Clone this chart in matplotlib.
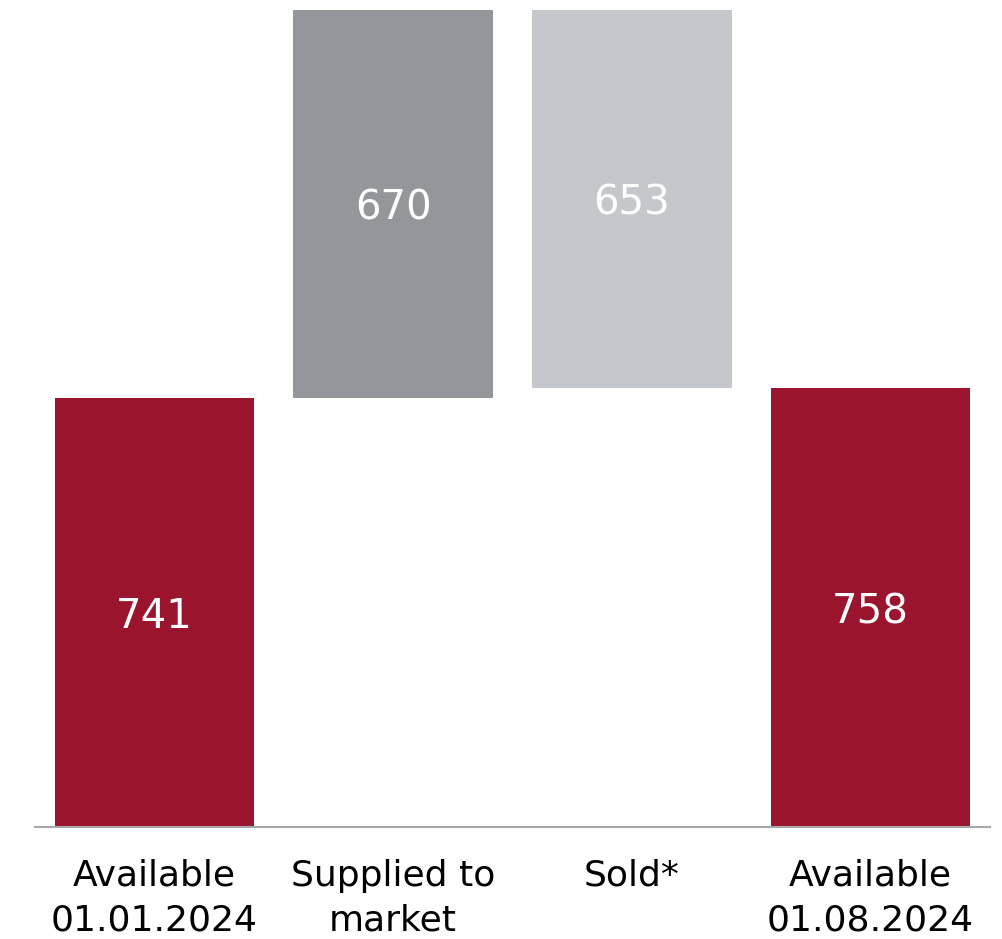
import numpy as np
import matplotlib.pyplot as plt

labels = ["Available\n01.01.2024", "Supplied to\nmarket", "Sold*", "Available\n01.08.2024"]
values = [741, 670, 653, 758]
colors = ["#9B142D", "#93979B", "#C4C8CC", "#9B142D"]

# waterfall: start, +supplied, -sold, end
start = values[0]
top = start + values[1]
bottoms = [0, start, top - values[2], 0]
heights = [values[0], values[1], values[2], values[3]]

fig = plt.figure(figsize=(10.02, 9.39), dpi=100)
ax = fig.add_axes([0.035, 1 - 827 / 939, 0.953, 827 / 939])

x = np.arange(len(labels))
ax.bar(x, heights, bottom=bottoms, width=0.835, color=colors)

for xi, b, h, v in zip(x, bottoms, heights, values):
    ax.text(xi, b + h / 2, str(v), ha="center", va="center_baseline",
            color="white", fontsize=29)

ax.set_xlim(-0.5, 3.5)
ax.set_ylim(0, 1428)
ax.set_xticks(x)
ax.set_xticklabels(labels, fontsize=26, linespacing=1.4)
ax.tick_params(axis="x", length=0, pad=23)
ax.set_yticks([])
for s in ["top", "right", "left"]:
    ax.spines[s].set_visible(False)
ax.spines["bottom"].set_color("#A6A8AB")
ax.spines["bottom"].set_linewidth(1.5)

plt.savefig("out.png", dpi=100)
